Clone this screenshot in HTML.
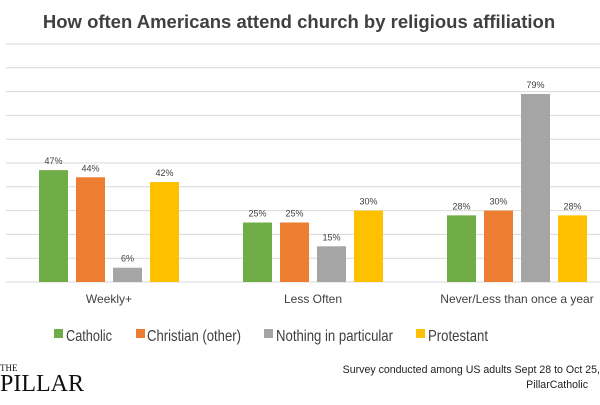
<!DOCTYPE html>
<html><head><meta charset="utf-8"><style>
body{margin:0;width:600px;height:400px;background:#fff;overflow:hidden;font-family:"Liberation Sans",sans-serif}
</style></head><body>
<svg width="600" height="400" id="c">
<text x="299" y="28" text-anchor="middle" font-size="18.5" font-weight="bold" fill="#404040">How often Americans attend church by religious affiliation</text>
<g id="grid"></g><g id="bars"></g>
<g font-size="16" fill="#404040">
<rect x="54" y="329" width="9" height="9" fill="#70ad47"/><text x="66" y="341" textLength="46" lengthAdjust="spacingAndGlyphs">Catholic</text>
<rect x="136" y="329" width="9" height="9" fill="#ed7d31"/><text x="147" y="341" textLength="94" lengthAdjust="spacingAndGlyphs">Christian (other)</text>
<rect x="264" y="329" width="9" height="9" fill="#a5a5a5"/><text x="276" y="341" textLength="117" lengthAdjust="spacingAndGlyphs">Nothing in particular</text>
<rect x="416" y="329" width="9" height="9" fill="#ffc000"/><text x="428" y="341" textLength="60" lengthAdjust="spacingAndGlyphs">Protestant</text>
</g>
<text x="0" y="371" font-family="Liberation Serif,serif" font-size="9" fill="#111">THE</text>
<text x="0" y="391" font-family="Liberation Serif,serif" font-size="24" fill="#111">PILLAR</text>
<text x="600" y="373" text-anchor="end" font-size="10.6" fill="#222">Survey conducted among US adults  Sept 28 to Oct 25,</text>
<text x="588" y="388" text-anchor="end" font-size="10.6" fill="#222">PillarCatholic</text>
</svg>
<script>
const categories=["Weekly+","Less Often","Never/Less than once a year"];
const seriesNames=["Catholic","Christian (other)","Nothing in particular","Protestant"];
const catholic=[47,25,28];
const christianOther=[44,25,30];
const nothing=[6,15,79];
const protestant=[42,30,28];
const series=[catholic,christianOther,nothing,protestant];
const colors=["#70ad47","#ed7d31","#a5a5a5","#ffc000"];
const NS="http://www.w3.org/2000/svg";
const base=282,top0=44;
const y=v=>base-(v/100)*(base-top0);
const gx=i=>109+i*204;
const g=document.getElementById('grid'),b=document.getElementById('bars');
for(let t=0;t<=100;t+=10){const l=document.createElementNS(NS,'line');l.setAttribute('x1',6);l.setAttribute('x2',600);l.setAttribute('y1',y(t));l.setAttribute('y2',y(t));l.setAttribute('stroke','#d9d9d9');l.setAttribute('stroke-width',1);


g.appendChild(l);}
categories.forEach((c,i)=>{
 series.forEach((s,k)=>{
  const x=gx(i)-70+k*37,v=s[i];
  const r=document.createElementNS(NS,'rect');r.setAttribute('x',x);r.setAttribute('y',y(v));r.setAttribute('width',29);r.setAttribute('height',base-y(v));r.setAttribute('fill',colors[k]);
  
  
  b.appendChild(r);
  const t=document.createElementNS(NS,'text');t.setAttribute('x',x+14.5);t.setAttribute('y',y(v)-6);t.setAttribute('text-anchor','middle');t.setAttribute('font-size','9');t.setAttribute('fill','#404040');t.textContent=v+'%';
  
  
  b.appendChild(t);
 });
 const t=document.createElementNS(NS,'text');t.setAttribute('x',gx(i));t.setAttribute('y',303);t.setAttribute('text-anchor','middle');t.setAttribute('font-size','12');t.setAttribute('fill','#404040');t.textContent=c;
 
 
 b.appendChild(t);
});
</script>
</body></html>
